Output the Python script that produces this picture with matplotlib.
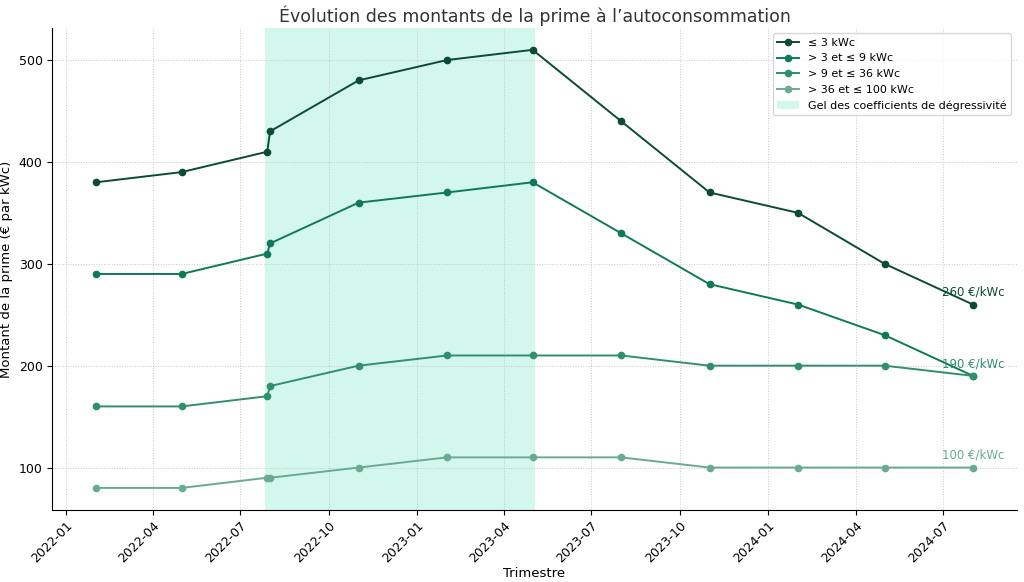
import matplotlib
matplotlib.use("Agg")
import matplotlib.pyplot as plt
import matplotlib.dates as mdates
import pandas as pd

dates = pd.to_datetime(["2022-02-01","2022-05-01","2022-07-29","2022-08-01","2022-11-01",
                        "2023-02-01","2023-05-01","2023-08-01","2023-11-01","2024-02-01",
                        "2024-05-01","2024-08-01"])
s1 = [380,390,410,430,480,500,510,440,370,350,300,260]
s2 = [290,290,310,320,360,370,380,330,280,260,230,190]
s3 = [160,160,170,180,200,210,210,210,200,200,200,190]
s4 = [80,80,90,90,100,110,110,110,100,100,100,100]
labels = ["≤ 3 kWc","> 3 et ≤ 9 kWc","> 9 et ≤ 36 kWc","> 36 et ≤ 100 kWc"]
colors = ["#0b4a36","#0f7a5a","#2f8f70","#6aaa92"]
end_labels = ["260 €/kWc",None,"190 €/kWc","100 €/kWc"]
end_y = [272,None,202,112]
freeze = pd.to_datetime(["2022-07-27","2023-05-03"])

fig, ax = plt.subplots(figsize=(10.24,5.82), dpi=100)
ax.axvspan(freeze[0], freeze[1], color="#aff2de", alpha=0.55, lw=0, label="Gel des coefficients de dégressivité")
for s,l,c in zip([s1,s2,s3,s4],labels,colors):
    ax.plot(dates, s, marker="o", ms=4.5, color=c, label=l, lw=1.4)
for t,y,c in zip(end_labels,end_y,colors):
    if t:
        ax.text(dates[-1], y, t, color=c, fontsize=8.5, ha="center", va="center")
h,l = ax.get_legend_handles_labels()
ax.legend(h[1:]+h[:1], l[1:]+l[:1], loc="upper right", fontsize=8)
ax.grid(True, ls=":", lw=0.7, color="#c8c8c8")
ax.set_title("Évolution des montants de la prime à l’autoconsommation", fontsize=12.5, color="#333333", pad=4)
ax.set_xlabel("Trimestre", fontsize=9.5, labelpad=1)
ax.set_ylabel("Montant de la prime (€ par kWc)", fontsize=9.5, labelpad=4)
ax.xaxis.set_major_locator(mdates.MonthLocator(bymonth=[1,4,7,10]))
ax.xaxis.set_major_formatter(mdates.DateFormatter("%Y-%m"))
plt.setp(ax.get_xticklabels(), rotation=45, ha="right", rotation_mode="anchor")
ax.set_yticks([100,200,300,400,500])
for sp in ["top","right"]:
    ax.spines[sp].set_visible(False)
ax.tick_params(labelsize=9)
plt.subplots_adjust(left=0.051, right=0.993, top=0.952, bottom=0.124)
fig.savefig("out.png")
